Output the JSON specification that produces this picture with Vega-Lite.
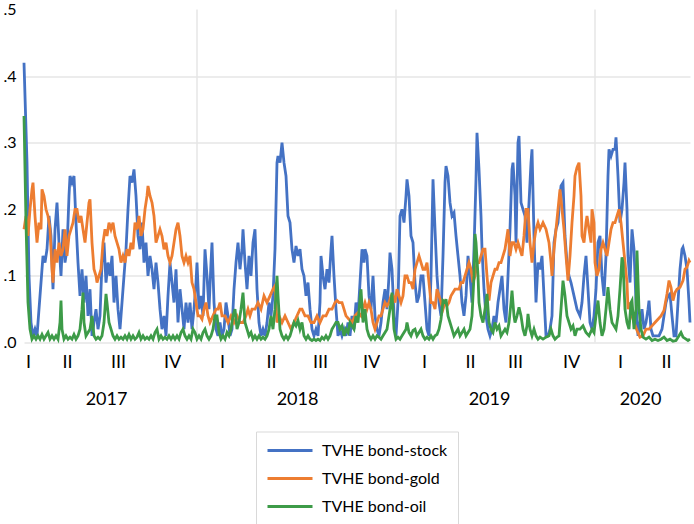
{
  "$schema": "https://vega.github.io/schema/vega-lite/v6.json",
  "width": 666,
  "height": 333,
  "autosize": {"type": "none"},
  "padding": {"left": 24, "top": 9.5, "right": 4, "bottom": 181.5},
  "config": {
    "view": {"stroke": null},
    "axis": {"domain": false, "ticks": false, "grid": false, "labelFont": "Lato", "labelColor": "#000000", "labelOverlap": false, "labelFlush": false},
    "axisY": {"grid": true, "gridColor": "#e6e6e6", "gridWidth": 1.5, "labelFontSize": 16, "labelPadding": 8},
    "axisX": {"labelFontSize": 18}
  },
  "datasets": {
    "grid": [{"d": 173}, {"d": 372}, {"d": 571}],
    "stock": [
      {"d":0,"v":0.42},{"d":3,"v":0.27},{"d":5,"v":0.10},{"d":7,"v":0.03},{"d":9,"v":0.01},{"d":11,"v":0.02},{"d":13,"v":0.01},{"d":15,"v":0.05},{"d":17,"v":0.09},{"d":19,"v":0.13},{"d":21,"v":0.12},{"d":23,"v":0.14},{"d":25,"v":0.19},{"d":27,"v":0.16},{"d":29,"v":0.08},{"d":31,"v":0.17},{"d":33,"v":0.21},{"d":35,"v":0.15},{"d":37,"v":0.10},{"d":39,"v":0.17},{"d":41,"v":0.12},{"d":43,"v":0.14},{"d":45,"v":0.22},{"d":46,"v":0.25},{"d":48,"v":0.24},{"d":50,"v":0.25},{"d":52,"v":0.18},{"d":54,"v":0.12},{"d":56,"v":0.07},{"d":58,"v":0.11},{"d":60,"v":0.06},{"d":62,"v":0.10},{"d":64,"v":0.04},{"d":66,"v":0.08},{"d":68,"v":0.01},{"d":70,"v":0.03},{"d":72,"v":0.05},{"d":74,"v":0.02},{"d":76,"v":0.04},{"d":78,"v":0.12},{"d":80,"v":0.15},{"d":82,"v":0.09},{"d":84,"v":0.12},{"d":86,"v":0.10},{"d":88,"v":0.13},{"d":90,"v":0.06},{"d":92,"v":0.10},{"d":94,"v":0.05},{"d":96,"v":0.02},{"d":98,"v":0.06},{"d":100,"v":0.10},{"d":102,"v":0.14},{"d":104,"v":0.20},{"d":106,"v":0.25},{"d":108,"v":0.24},{"d":110,"v":0.26},{"d":112,"v":0.22},{"d":114,"v":0.16},{"d":116,"v":0.14},{"d":118,"v":0.18},{"d":120,"v":0.12},{"d":122,"v":0.15},{"d":124,"v":0.10},{"d":126,"v":0.13},{"d":128,"v":0.11},{"d":130,"v":0.08},{"d":132,"v":0.12},{"d":134,"v":0.09},{"d":136,"v":0.05},{"d":138,"v":0.02},{"d":140,"v":0.04},{"d":142,"v":0.01},{"d":144,"v":0.07},{"d":146,"v":0.12},{"d":148,"v":0.09},{"d":150,"v":0.06},{"d":152,"v":0.11},{"d":154,"v":0.03},{"d":156,"v":0.08},{"d":158,"v":0.05},{"d":160,"v":0.02},{"d":162,"v":0.06},{"d":164,"v":0.03},{"d":166,"v":0.06},{"d":168,"v":0.02},{"d":170,"v":0.05},{"d":172,"v":0.09},{"d":173,"v":0.12},{"d":175,"v":0.05},{"d":177,"v":0.07},{"d":179,"v":0.04},{"d":181,"v":0.14},{"d":183,"v":0.10},{"d":185,"v":0.05},{"d":187,"v":0.12},{"d":188,"v":0.15},{"d":190,"v":0.06},{"d":192,"v":0.02},{"d":194,"v":0.01},{"d":196,"v":0.03},{"d":198,"v":0.01},{"d":200,"v":0.02},{"d":202,"v":0.06},{"d":204,"v":0.04},{"d":206,"v":0.01},{"d":208,"v":0.02},{"d":210,"v":0.08},{"d":212,"v":0.12},{"d":214,"v":0.15},{"d":216,"v":0.11},{"d":218,"v":0.14},{"d":219,"v":0.17},{"d":221,"v":0.12},{"d":223,"v":0.08},{"d":225,"v":0.13},{"d":227,"v":0.10},{"d":229,"v":0.15},{"d":231,"v":0.17},{"d":233,"v":0.08},{"d":235,"v":0.03},{"d":237,"v":0.01},{"d":239,"v":0.02},{"d":241,"v":0.01},{"d":243,"v":0.03},{"d":245,"v":0.06},{"d":247,"v":0.04},{"d":249,"v":0.07},{"d":251,"v":0.14},{"d":253,"v":0.27},{"d":254,"v":0.28},{"d":256,"v":0.27},{"d":258,"v":0.30},{"d":260,"v":0.27},{"d":262,"v":0.25},{"d":264,"v":0.19},{"d":266,"v":0.18},{"d":268,"v":0.14},{"d":270,"v":0.12},{"d":272,"v":0.145},{"d":274,"v":0.13},{"d":276,"v":0.14},{"d":278,"v":0.11},{"d":280,"v":0.10},{"d":282,"v":0.07},{"d":284,"v":0.09},{"d":286,"v":0.05},{"d":288,"v":0.02},{"d":290,"v":0.01},{"d":292,"v":0.02},{"d":294,"v":0.01},{"d":296,"v":0.06},{"d":297,"v":0.13},{"d":299,"v":0.10},{"d":301,"v":0.08},{"d":303,"v":0.11},{"d":305,"v":0.09},{"d":307,"v":0.14},{"d":308,"v":0.16},{"d":310,"v":0.10},{"d":312,"v":0.05},{"d":314,"v":0.01},{"d":316,"v":0.02},{"d":318,"v":0.01},{"d":320,"v":0.02},{"d":322,"v":0.01},{"d":324,"v":0.03},{"d":326,"v":0.01},{"d":328,"v":0.04},{"d":330,"v":0.02},{"d":332,"v":0.06},{"d":334,"v":0.04},{"d":336,"v":0.09},{"d":338,"v":0.14},{"d":340,"v":0.12},{"d":341,"v":0.14},{"d":343,"v":0.13},{"d":345,"v":0.07},{"d":347,"v":0.05},{"d":349,"v":0.10},{"d":351,"v":0.04},{"d":353,"v":0.02},{"d":355,"v":0.01},{"d":357,"v":0.03},{"d":359,"v":0.06},{"d":361,"v":0.08},{"d":363,"v":0.05},{"d":365,"v":0.10},{"d":366,"v":0.135},{"d":368,"v":0.11},{"d":370,"v":0.04},{"d":372,"v":0.01},{"d":374,"v":0.06},{"d":376,"v":0.19},{"d":378,"v":0.20},{"d":380,"v":0.18},{"d":382,"v":0.22},{"d":383,"v":0.245},{"d":385,"v":0.22},{"d":387,"v":0.16},{"d":389,"v":0.15},{"d":391,"v":0.09},{"d":393,"v":0.06},{"d":395,"v":0.07},{"d":397,"v":0.10},{"d":399,"v":0.10},{"d":401,"v":0.06},{"d":403,"v":0.02},{"d":405,"v":0.01},{"d":407,"v":0.10},{"d":409,"v":0.245},{"d":411,"v":0.17},{"d":413,"v":0.10},{"d":415,"v":0.06},{"d":417,"v":0.04},{"d":419,"v":0.13},{"d":421,"v":0.24},{"d":422,"v":0.265},{"d":424,"v":0.25},{"d":426,"v":0.21},{"d":428,"v":0.19},{"d":430,"v":0.195},{"d":432,"v":0.16},{"d":434,"v":0.13},{"d":436,"v":0.10},{"d":438,"v":0.06},{"d":440,"v":0.04},{"d":442,"v":0.07},{"d":444,"v":0.13},{"d":446,"v":0.10},{"d":448,"v":0.06},{"d":450,"v":0.14},{"d":452,"v":0.245},{"d":453,"v":0.315},{"d":455,"v":0.26},{"d":457,"v":0.19},{"d":458,"v":0.14},{"d":460,"v":0.08},{"d":462,"v":0.04},{"d":464,"v":0.02},{"d":466,"v":0.01},{"d":468,"v":0.02},{"d":470,"v":0.04},{"d":472,"v":0.03},{"d":474,"v":0.06},{"d":476,"v":0.08},{"d":478,"v":0.10},{"d":480,"v":0.05},{"d":482,"v":0.03},{"d":484,"v":0.10},{"d":486,"v":0.17},{"d":488,"v":0.26},{"d":489,"v":0.27},{"d":491,"v":0.22},{"d":492,"v":0.15},{"d":494,"v":0.30},{"d":495,"v":0.31},{"d":497,"v":0.21},{"d":499,"v":0.20},{"d":501,"v":0.19},{"d":503,"v":0.15},{"d":505,"v":0.21},{"d":507,"v":0.27},{"d":508,"v":0.29},{"d":510,"v":0.16},{"d":512,"v":0.06},{"d":514,"v":0.12},{"d":516,"v":0.11},{"d":518,"v":0.13},{"d":520,"v":0.07},{"d":522,"v":0.01},{"d":524,"v":0.01},{"d":526,"v":0.02},{"d":528,"v":0.04},{"d":530,"v":0.15},{"d":532,"v":0.17},{"d":534,"v":0.18},{"d":536,"v":0.22},{"d":537,"v":0.235},{"d":539,"v":0.24},{"d":541,"v":0.16},{"d":543,"v":0.12},{"d":545,"v":0.10},{"d":547,"v":0.09},{"d":550,"v":0.07},{"d":553,"v":0.05},{"d":556,"v":0.04},{"d":558,"v":0.06},{"d":560,"v":0.10},{"d":562,"v":0.13},{"d":564,"v":0.08},{"d":566,"v":0.03},{"d":568,"v":0.02},{"d":570,"v":0.04},{"d":572,"v":0.08},{"d":574,"v":0.15},{"d":576,"v":0.16},{"d":578,"v":0.10},{"d":580,"v":0.07},{"d":582,"v":0.13},{"d":584,"v":0.25},{"d":585,"v":0.29},{"d":587,"v":0.28},{"d":589,"v":0.29},{"d":591,"v":0.29},{"d":592,"v":0.308},{"d":594,"v":0.25},{"d":596,"v":0.18},{"d":598,"v":0.20},{"d":600,"v":0.24},{"d":601,"v":0.27},{"d":603,"v":0.20},{"d":604,"v":0.13},{"d":606,"v":0.09},{"d":608,"v":0.17},{"d":610,"v":0.14},{"d":612,"v":0.06},{"d":614,"v":0.01},{"d":616,"v":0.03},{"d":618,"v":0.05},{"d":620,"v":0.02},{"d":622,"v":0.03},{"d":624,"v":0.05},{"d":625,"v":0.063},{"d":627,"v":0.02},{"d":629,"v":0.01},{"d":632,"v":0.01},{"d":635,"v":0.01},{"d":638,"v":0.02},{"d":640,"v":0.04},{"d":642,"v":0.06},{"d":644,"v":0.07},{"d":646,"v":0.073},{"d":648,"v":0.04},{"d":650,"v":0.01},{"d":652,"v":0.01},{"d":654,"v":0.06},{"d":656,"v":0.11},{"d":658,"v":0.14},{"d":659,"v":0.143},{"d":661,"v":0.13},{"d":663,"v":0.11},{"d":665,"v":0.06},{"d":666,"v":0.03}
    ],
    "gold": [
      {"d":0,"v":0.17},{"d":2,"v":0.19},{"d":4,"v":0.16},{"d":6,"v":0.20},{"d":8,"v":0.23},{"d":9,"v":0.24},{"d":11,"v":0.19},{"d":13,"v":0.15},{"d":15,"v":0.18},{"d":17,"v":0.17},{"d":18,"v":0.23},{"d":20,"v":0.22},{"d":22,"v":0.20},{"d":24,"v":0.19},{"d":26,"v":0.17},{"d":28,"v":0.11},{"d":29,"v":0.09},{"d":31,"v":0.14},{"d":33,"v":0.12},{"d":35,"v":0.15},{"d":37,"v":0.13},{"d":39,"v":0.14},{"d":41,"v":0.17},{"d":43,"v":0.13},{"d":45,"v":0.16},{"d":47,"v":0.17},{"d":49,"v":0.18},{"d":51,"v":0.20},{"d":53,"v":0.20},{"d":55,"v":0.18},{"d":57,"v":0.19},{"d":59,"v":0.17},{"d":61,"v":0.15},{"d":63,"v":0.18},{"d":65,"v":0.21},{"d":66,"v":0.215},{"d":68,"v":0.15},{"d":70,"v":0.11},{"d":72,"v":0.10},{"d":73,"v":0.09},{"d":75,"v":0.10},{"d":77,"v":0.11},{"d":79,"v":0.15},{"d":81,"v":0.17},{"d":83,"v":0.16},{"d":85,"v":0.18},{"d":87,"v":0.17},{"d":89,"v":0.18},{"d":91,"v":0.16},{"d":93,"v":0.15},{"d":95,"v":0.14},{"d":97,"v":0.12},{"d":99,"v":0.13},{"d":101,"v":0.12},{"d":103,"v":0.14},{"d":105,"v":0.13},{"d":107,"v":0.15},{"d":109,"v":0.14},{"d":111,"v":0.18},{"d":113,"v":0.17},{"d":115,"v":0.19},{"d":117,"v":0.16},{"d":119,"v":0.17},{"d":121,"v":0.20},{"d":123,"v":0.22},{"d":124,"v":0.235},{"d":126,"v":0.22},{"d":128,"v":0.21},{"d":130,"v":0.19},{"d":132,"v":0.15},{"d":134,"v":0.16},{"d":136,"v":0.17},{"d":138,"v":0.16},{"d":140,"v":0.14},{"d":142,"v":0.15},{"d":144,"v":0.13},{"d":146,"v":0.12},{"d":148,"v":0.13},{"d":150,"v":0.15},{"d":152,"v":0.17},{"d":154,"v":0.18},{"d":156,"v":0.16},{"d":158,"v":0.13},{"d":160,"v":0.12},{"d":162,"v":0.13},{"d":164,"v":0.12},{"d":166,"v":0.13},{"d":168,"v":0.09},{"d":170,"v":0.08},{"d":172,"v":0.06},{"d":174,"v":0.04},{"d":176,"v":0.04},{"d":178,"v":0.035},{"d":180,"v":0.05},{"d":182,"v":0.06},{"d":184,"v":0.04},{"d":186,"v":0.03},{"d":189,"v":0.04},{"d":192,"v":0.05},{"d":194,"v":0.05},{"d":196,"v":0.06},{"d":198,"v":0.04},{"d":201,"v":0.04},{"d":204,"v":0.03},{"d":207,"v":0.04},{"d":210,"v":0.03},{"d":213,"v":0.04},{"d":216,"v":0.03},{"d":219,"v":0.03},{"d":222,"v":0.04},{"d":224,"v":0.05},{"d":226,"v":0.04},{"d":228,"v":0.05},{"d":231,"v":0.05},{"d":234,"v":0.06},{"d":237,"v":0.05},{"d":240,"v":0.07},{"d":243,"v":0.06},{"d":246,"v":0.07},{"d":249,"v":0.08},{"d":251,"v":0.085},{"d":253,"v":0.03},{"d":255,"v":0.04},{"d":258,"v":0.03},{"d":261,"v":0.04},{"d":264,"v":0.03},{"d":267,"v":0.02},{"d":270,"v":0.03},{"d":273,"v":0.04},{"d":276,"v":0.05},{"d":278,"v":0.05},{"d":281,"v":0.04},{"d":284,"v":0.04},{"d":287,"v":0.03},{"d":290,"v":0.03},{"d":293,"v":0.04},{"d":296,"v":0.03},{"d":299,"v":0.04},{"d":302,"v":0.04},{"d":305,"v":0.05},{"d":308,"v":0.05},{"d":311,"v":0.06},{"d":313,"v":0.063},{"d":315,"v":0.06},{"d":318,"v":0.06},{"d":320,"v":0.05},{"d":322,"v":0.04},{"d":325,"v":0.035},{"d":328,"v":0.03},{"d":331,"v":0.04},{"d":334,"v":0.045},{"d":337,"v":0.04},{"d":339,"v":0.05},{"d":341,"v":0.06},{"d":343,"v":0.05},{"d":345,"v":0.06},{"d":347,"v":0.05},{"d":349,"v":0.03},{"d":351,"v":0.02},{"d":353,"v":0.03},{"d":355,"v":0.04},{"d":357,"v":0.04},{"d":359,"v":0.05},{"d":361,"v":0.06},{"d":363,"v":0.055},{"d":365,"v":0.06},{"d":367,"v":0.07},{"d":369,"v":0.07},{"d":371,"v":0.06},{"d":373,"v":0.08},{"d":375,"v":0.07},{"d":377,"v":0.06},{"d":379,"v":0.07},{"d":381,"v":0.10},{"d":383,"v":0.10},{"d":385,"v":0.09},{"d":387,"v":0.09},{"d":389,"v":0.08},{"d":391,"v":0.11},{"d":393,"v":0.12},{"d":395,"v":0.13},{"d":397,"v":0.12},{"d":399,"v":0.11},{"d":401,"v":0.11},{"d":403,"v":0.12},{"d":405,"v":0.09},{"d":407,"v":0.06},{"d":409,"v":0.06},{"d":411,"v":0.05},{"d":413,"v":0.08},{"d":415,"v":0.07},{"d":417,"v":0.06},{"d":419,"v":0.05},{"d":421,"v":0.06},{"d":423,"v":0.055},{"d":425,"v":0.06},{"d":427,"v":0.07},{"d":429,"v":0.075},{"d":431,"v":0.08},{"d":433,"v":0.08},{"d":435,"v":0.08},{"d":437,"v":0.09},{"d":439,"v":0.09},{"d":441,"v":0.10},{"d":443,"v":0.11},{"d":445,"v":0.12},{"d":447,"v":0.11},{"d":449,"v":0.09},{"d":451,"v":0.10},{"d":453,"v":0.12},{"d":455,"v":0.12},{"d":457,"v":0.13},{"d":459,"v":0.14},{"d":461,"v":0.14},{"d":463,"v":0.10},{"d":465,"v":0.063},{"d":467,"v":0.09},{"d":469,"v":0.10},{"d":471,"v":0.11},{"d":473,"v":0.11},{"d":475,"v":0.12},{"d":477,"v":0.12},{"d":479,"v":0.13},{"d":481,"v":0.14},{"d":483,"v":0.16},{"d":484,"v":0.17},{"d":486,"v":0.13},{"d":488,"v":0.15},{"d":490,"v":0.15},{"d":492,"v":0.14},{"d":494,"v":0.15},{"d":496,"v":0.14},{"d":498,"v":0.13},{"d":500,"v":0.16},{"d":502,"v":0.20},{"d":504,"v":0.20},{"d":506,"v":0.15},{"d":508,"v":0.12},{"d":510,"v":0.15},{"d":512,"v":0.17},{"d":514,"v":0.18},{"d":516,"v":0.17},{"d":519,"v":0.18},{"d":522,"v":0.17},{"d":525,"v":0.15},{"d":527,"v":0.12},{"d":528,"v":0.10},{"d":530,"v":0.14},{"d":532,"v":0.17},{"d":534,"v":0.20},{"d":536,"v":0.23},{"d":538,"v":0.20},{"d":540,"v":0.17},{"d":542,"v":0.13},{"d":544,"v":0.093},{"d":546,"v":0.13},{"d":548,"v":0.18},{"d":550,"v":0.22},{"d":551,"v":0.25},{"d":553,"v":0.263},{"d":555,"v":0.27},{"d":557,"v":0.22},{"d":558,"v":0.16},{"d":560,"v":0.15},{"d":562,"v":0.18},{"d":563,"v":0.19},{"d":565,"v":0.17},{"d":567,"v":0.15},{"d":568,"v":0.20},{"d":570,"v":0.18},{"d":571,"v":0.12},{"d":573,"v":0.10},{"d":575,"v":0.11},{"d":577,"v":0.14},{"d":579,"v":0.15},{"d":581,"v":0.14},{"d":583,"v":0.13},{"d":585,"v":0.15},{"d":587,"v":0.17},{"d":589,"v":0.18},{"d":591,"v":0.18},{"d":593,"v":0.19},{"d":595,"v":0.20},{"d":597,"v":0.18},{"d":599,"v":0.15},{"d":601,"v":0.12},{"d":603,"v":0.09},{"d":604,"v":0.05},{"d":606,"v":0.06},{"d":608,"v":0.04},{"d":610,"v":0.03},{"d":613,"v":0.018},{"d":616,"v":0.008},{"d":619,"v":0.01},{"d":622,"v":0.02},{"d":625,"v":0.02},{"d":628,"v":0.025},{"d":631,"v":0.03},{"d":634,"v":0.035},{"d":637,"v":0.04},{"d":640,"v":0.048},{"d":643,"v":0.073},{"d":645,"v":0.093},{"d":647,"v":0.083},{"d":649,"v":0.063},{"d":651,"v":0.075},{"d":653,"v":0.08},{"d":656,"v":0.083},{"d":659,"v":0.093},{"d":661,"v":0.11},{"d":663,"v":0.113},{"d":665,"v":0.123},{"d":666,"v":0.12}
    ],
    "oil": [
      {"d":0,"v":0.34},{"d":2,"v":0.18},{"d":4,"v":0.06},{"d":6,"v":0.02},{"d":8,"v":0.005},{"d":10,"v":0.01},{"d":12,"v":0.005},{"d":14,"v":0.01},{"d":16,"v":0.005},{"d":18,"v":0.012},{"d":20,"v":0.005},{"d":22,"v":0.01},{"d":24,"v":0.015},{"d":26,"v":0.005},{"d":28,"v":0.01},{"d":30,"v":0.005},{"d":32,"v":0.01},{"d":34,"v":0.005},{"d":36,"v":0.03},{"d":37,"v":0.063},{"d":38,"v":0.02},{"d":40,"v":0.005},{"d":42,"v":0.01},{"d":44,"v":0.005},{"d":46,"v":0.008},{"d":48,"v":0.005},{"d":50,"v":0.012},{"d":52,"v":0.005},{"d":54,"v":0.01},{"d":56,"v":0.02},{"d":58,"v":0.05},{"d":59,"v":0.075},{"d":60,"v":0.03},{"d":62,"v":0.01},{"d":64,"v":0.015},{"d":66,"v":0.02},{"d":68,"v":0.04},{"d":70,"v":0.01},{"d":72,"v":0.005},{"d":74,"v":0.008},{"d":76,"v":0.005},{"d":78,"v":0.01},{"d":80,"v":0.03},{"d":82,"v":0.073},{"d":83,"v":0.06},{"d":85,"v":0.03},{"d":87,"v":0.02},{"d":89,"v":0.01},{"d":91,"v":0.005},{"d":93,"v":0.01},{"d":95,"v":0.005},{"d":97,"v":0.008},{"d":99,"v":0.005},{"d":101,"v":0.01},{"d":103,"v":0.005},{"d":105,"v":0.012},{"d":107,"v":0.005},{"d":109,"v":0.01},{"d":111,"v":0.005},{"d":113,"v":0.008},{"d":115,"v":0.015},{"d":117,"v":0.005},{"d":119,"v":0.01},{"d":121,"v":0.005},{"d":123,"v":0.008},{"d":125,"v":0.005},{"d":127,"v":0.01},{"d":129,"v":0.005},{"d":131,"v":0.015},{"d":133,"v":0.02},{"d":135,"v":0.005},{"d":137,"v":0.01},{"d":139,"v":0.005},{"d":141,"v":0.008},{"d":143,"v":0.005},{"d":145,"v":0.01},{"d":147,"v":0.005},{"d":149,"v":0.01},{"d":151,"v":0.005},{"d":153,"v":0.01},{"d":155,"v":0.005},{"d":157,"v":0.015},{"d":159,"v":0.02},{"d":161,"v":0.01},{"d":163,"v":0.005},{"d":165,"v":0.01},{"d":167,"v":0.005},{"d":169,"v":0.02},{"d":171,"v":0.015},{"d":173,"v":0.005},{"d":175,"v":0.01},{"d":177,"v":0.005},{"d":179,"v":0.015},{"d":181,"v":0.02},{"d":183,"v":0.01},{"d":185,"v":0.005},{"d":187,"v":0.01},{"d":189,"v":0.02},{"d":191,"v":0.04},{"d":193,"v":0.04},{"d":195,"v":0.015},{"d":197,"v":0.005},{"d":199,"v":0.01},{"d":201,"v":0.005},{"d":203,"v":0.015},{"d":205,"v":0.01},{"d":207,"v":0.02},{"d":209,"v":0.04},{"d":211,"v":0.05},{"d":213,"v":0.02},{"d":215,"v":0.03},{"d":217,"v":0.05},{"d":219,"v":0.075},{"d":221,"v":0.03},{"d":223,"v":0.02},{"d":225,"v":0.01},{"d":227,"v":0.015},{"d":229,"v":0.005},{"d":231,"v":0.01},{"d":233,"v":0.005},{"d":235,"v":0.01},{"d":237,"v":0.005},{"d":239,"v":0.008},{"d":241,"v":0.005},{"d":243,"v":0.01},{"d":245,"v":0.02},{"d":247,"v":0.04},{"d":249,"v":0.02},{"d":251,"v":0.05},{"d":253,"v":0.10},{"d":254,"v":0.07},{"d":256,"v":0.02},{"d":258,"v":0.01},{"d":260,"v":0.005},{"d":262,"v":0.01},{"d":264,"v":0.005},{"d":266,"v":0.01},{"d":268,"v":0.02},{"d":270,"v":0.03},{"d":272,"v":0.025},{"d":274,"v":0.033},{"d":276,"v":0.02},{"d":278,"v":0.03},{"d":280,"v":0.01},{"d":282,"v":0.005},{"d":284,"v":0.01},{"d":286,"v":0.005},{"d":288,"v":0.003},{"d":290,"v":0.005},{"d":292,"v":0.003},{"d":294,"v":0.005},{"d":296,"v":0.003},{"d":298,"v":0.008},{"d":300,"v":0.005},{"d":302,"v":0.01},{"d":304,"v":0.005},{"d":306,"v":0.01},{"d":308,"v":0.02},{"d":310,"v":0.025},{"d":312,"v":0.03},{"d":314,"v":0.03},{"d":316,"v":0.02},{"d":318,"v":0.025},{"d":320,"v":0.01},{"d":322,"v":0.02},{"d":324,"v":0.015},{"d":326,"v":0.03},{"d":328,"v":0.025},{"d":330,"v":0.02},{"d":332,"v":0.04},{"d":334,"v":0.03},{"d":336,"v":0.065},{"d":337,"v":0.08},{"d":339,"v":0.03},{"d":341,"v":0.05},{"d":343,"v":0.02},{"d":345,"v":0.01},{"d":347,"v":0.005},{"d":349,"v":0.01},{"d":351,"v":0.005},{"d":353,"v":0.01},{"d":355,"v":0.008},{"d":357,"v":0.005},{"d":359,"v":0.01},{"d":361,"v":0.015},{"d":363,"v":0.02},{"d":365,"v":0.04},{"d":367,"v":0.06},{"d":368,"v":0.075},{"d":370,"v":0.02},{"d":372,"v":0.005},{"d":374,"v":0.008},{"d":376,"v":0.005},{"d":378,"v":0.01},{"d":380,"v":0.015},{"d":382,"v":0.02},{"d":383,"v":0.03},{"d":385,"v":0.015},{"d":387,"v":0.01},{"d":389,"v":0.018},{"d":391,"v":0.02},{"d":393,"v":0.01},{"d":395,"v":0.015},{"d":397,"v":0.02},{"d":399,"v":0.01},{"d":401,"v":0.005},{"d":403,"v":0.008},{"d":405,"v":0.005},{"d":407,"v":0.01},{"d":409,"v":0.005},{"d":411,"v":0.01},{"d":413,"v":0.012},{"d":415,"v":0.02},{"d":417,"v":0.035},{"d":419,"v":0.063},{"d":421,"v":0.06},{"d":422,"v":0.065},{"d":424,"v":0.04},{"d":426,"v":0.03},{"d":428,"v":0.02},{"d":430,"v":0.01},{"d":432,"v":0.015},{"d":434,"v":0.02},{"d":436,"v":0.01},{"d":438,"v":0.015},{"d":440,"v":0.02},{"d":442,"v":0.01},{"d":444,"v":0.015},{"d":446,"v":0.02},{"d":448,"v":0.04},{"d":450,"v":0.10},{"d":451,"v":0.163},{"d":452,"v":0.15},{"d":454,"v":0.10},{"d":455,"v":0.06},{"d":457,"v":0.04},{"d":459,"v":0.03},{"d":461,"v":0.05},{"d":463,"v":0.073},{"d":465,"v":0.03},{"d":467,"v":0.02},{"d":469,"v":0.015},{"d":471,"v":0.03},{"d":473,"v":0.02},{"d":475,"v":0.025},{"d":477,"v":0.01},{"d":479,"v":0.015},{"d":481,"v":0.02},{"d":483,"v":0.015},{"d":485,"v":0.03},{"d":487,"v":0.06},{"d":488,"v":0.078},{"d":490,"v":0.04},{"d":491,"v":0.03},{"d":493,"v":0.04},{"d":495,"v":0.053},{"d":497,"v":0.04},{"d":499,"v":0.02},{"d":501,"v":0.01},{"d":503,"v":0.025},{"d":504,"v":0.043},{"d":506,"v":0.02},{"d":508,"v":0.01},{"d":510,"v":0.02},{"d":512,"v":0.01},{"d":514,"v":0.005},{"d":516,"v":0.008},{"d":519,"v":0.005},{"d":522,"v":0.008},{"d":525,"v":0.01},{"d":527,"v":0.02},{"d":529,"v":0.01},{"d":531,"v":0.005},{"d":533,"v":0.008},{"d":535,"v":0.01},{"d":537,"v":0.05},{"d":539,"v":0.093},{"d":541,"v":0.07},{"d":543,"v":0.04},{"d":545,"v":0.03},{"d":547,"v":0.02},{"d":549,"v":0.025},{"d":551,"v":0.01},{"d":553,"v":0.02},{"d":556,"v":0.02},{"d":559,"v":0.025},{"d":562,"v":0.015},{"d":565,"v":0.01},{"d":568,"v":0.02},{"d":570,"v":0.015},{"d":572,"v":0.04},{"d":574,"v":0.063},{"d":576,"v":0.03},{"d":578,"v":0.01},{"d":580,"v":0.02},{"d":582,"v":0.05},{"d":584,"v":0.083},{"d":586,"v":0.05},{"d":588,"v":0.03},{"d":590,"v":0.025},{"d":592,"v":0.02},{"d":594,"v":0.04},{"d":596,"v":0.08},{"d":598,"v":0.128},{"d":599,"v":0.12},{"d":601,"v":0.05},{"d":603,"v":0.03},{"d":605,"v":0.02},{"d":607,"v":0.06},{"d":608,"v":0.063},{"d":610,"v":0.02},{"d":612,"v":0.05},{"d":613,"v":0.138},{"d":615,"v":0.05},{"d":617,"v":0.02},{"d":619,"v":0.008},{"d":622,"v":0.005},{"d":625,"v":0.008},{"d":628,"v":0.003},{"d":631,"v":0.005},{"d":634,"v":0.003},{"d":637,"v":0.005},{"d":640,"v":0.008},{"d":643,"v":0.003},{"d":646,"v":0.005},{"d":649,"v":0.002},{"d":652,"v":0.003},{"d":655,"v":0.01},{"d":657,"v":0.015},{"d":659,"v":0.008},{"d":662,"v":0.005},{"d":664,"v":0.003},{"d":666,"v":0.005}
    ]
  },
  "layer": [
    {
      "data": {"name": "grid"},
      "mark": {"type": "rule", "color": "#e6e6e6", "strokeWidth": 1.5},
      "encoding": {
        "x": {
          "field": "d", "type": "quantitative",
          "scale": {"domain": [0, 666], "nice": false, "zero": false},
          "axis": {
            "orient": "bottom", "title": null, "values": [82, 273, 465, 616],
            "labelExpr": "['2017','2018','2019','2020'][indexof([82,273,465,616], datum.value)]",
            "labelPadding": 48
          }
        }
      }
    },
    {
      "data": {"name": "stock"},
      "mark": {"type": "line", "strokeWidth": 2.8},
      "encoding": {
        "x": {
          "field": "d", "type": "quantitative",
          "scale": {"domain": [0, 666], "nice": false, "zero": false},
          "axis": {
            "orient": "bottom", "title": null,
            "values": [4, 43, 94, 148, 198, 247, 296, 347, 400, 446, 491, 547, 596, 642],
            "labelExpr": "['I','II','III','IV'][indexof([4,43,94,148,198,247,296,347,400,446,491,547,596,642], datum.value) % 4]",
            "labelPadding": 11
          }
        },
        "y": {
          "field": "v", "type": "quantitative",
          "scale": {"domain": [0, 0.5], "nice": false},
          "axis": {
            "title": null, "values": [0, 0.1, 0.2, 0.3, 0.4, 0.5],
            "labelExpr": "substring(format(datum.value, '.1f'), 1)",
            "gridOpacity": {"condition": {"test": "datum.value >= 0.5", "value": 0}, "value": 1}
          }
        },
        "color": {
          "datum": "TVHE bond-stock", "type": "nominal",
          "scale": {
            "domain": ["TVHE bond-stock", "TVHE bond-gold", "TVHE bond-oil"],
            "range": ["#4472c4", "#ed7d31", "#3d9b48"]
          },
          "legend": {
            "title": null, "orient": "none", "legendX": 232, "legendY": 422, "direction": "vertical",
            "symbolType": "M-1,0L5,0", "symbolSize": 225, "symbolStrokeWidth": 3,
            "labelFont": "Lato", "labelFontSize": 16, "labelColor": "#000000", "labelOffset": 38,
            "rowPadding": 11, "strokeColor": "#d9d9d9", "padding": 10
          }
        }
      }
    },
    {
      "data": {"name": "gold"},
      "mark": {"type": "line", "strokeWidth": 2.8},
      "encoding": {
        "x": {"field": "d", "type": "quantitative", "scale": {"domain": [0, 666], "nice": false, "zero": false}, "axis": null},
        "y": {"field": "v", "type": "quantitative", "scale": {"domain": [0, 0.5], "nice": false}},
        "color": {"datum": "TVHE bond-gold", "type": "nominal"}
      }
    },
    {
      "data": {"name": "oil"},
      "mark": {"type": "line", "strokeWidth": 2.8},
      "encoding": {
        "x": {"field": "d", "type": "quantitative", "scale": {"domain": [0, 666], "nice": false, "zero": false}, "axis": null},
        "y": {"field": "v", "type": "quantitative", "scale": {"domain": [0, 0.5], "nice": false}},
        "color": {"datum": "TVHE bond-oil", "type": "nominal"}
      }
    }
  ],
  "resolve": {"axis": {"x": "independent"}}
}
